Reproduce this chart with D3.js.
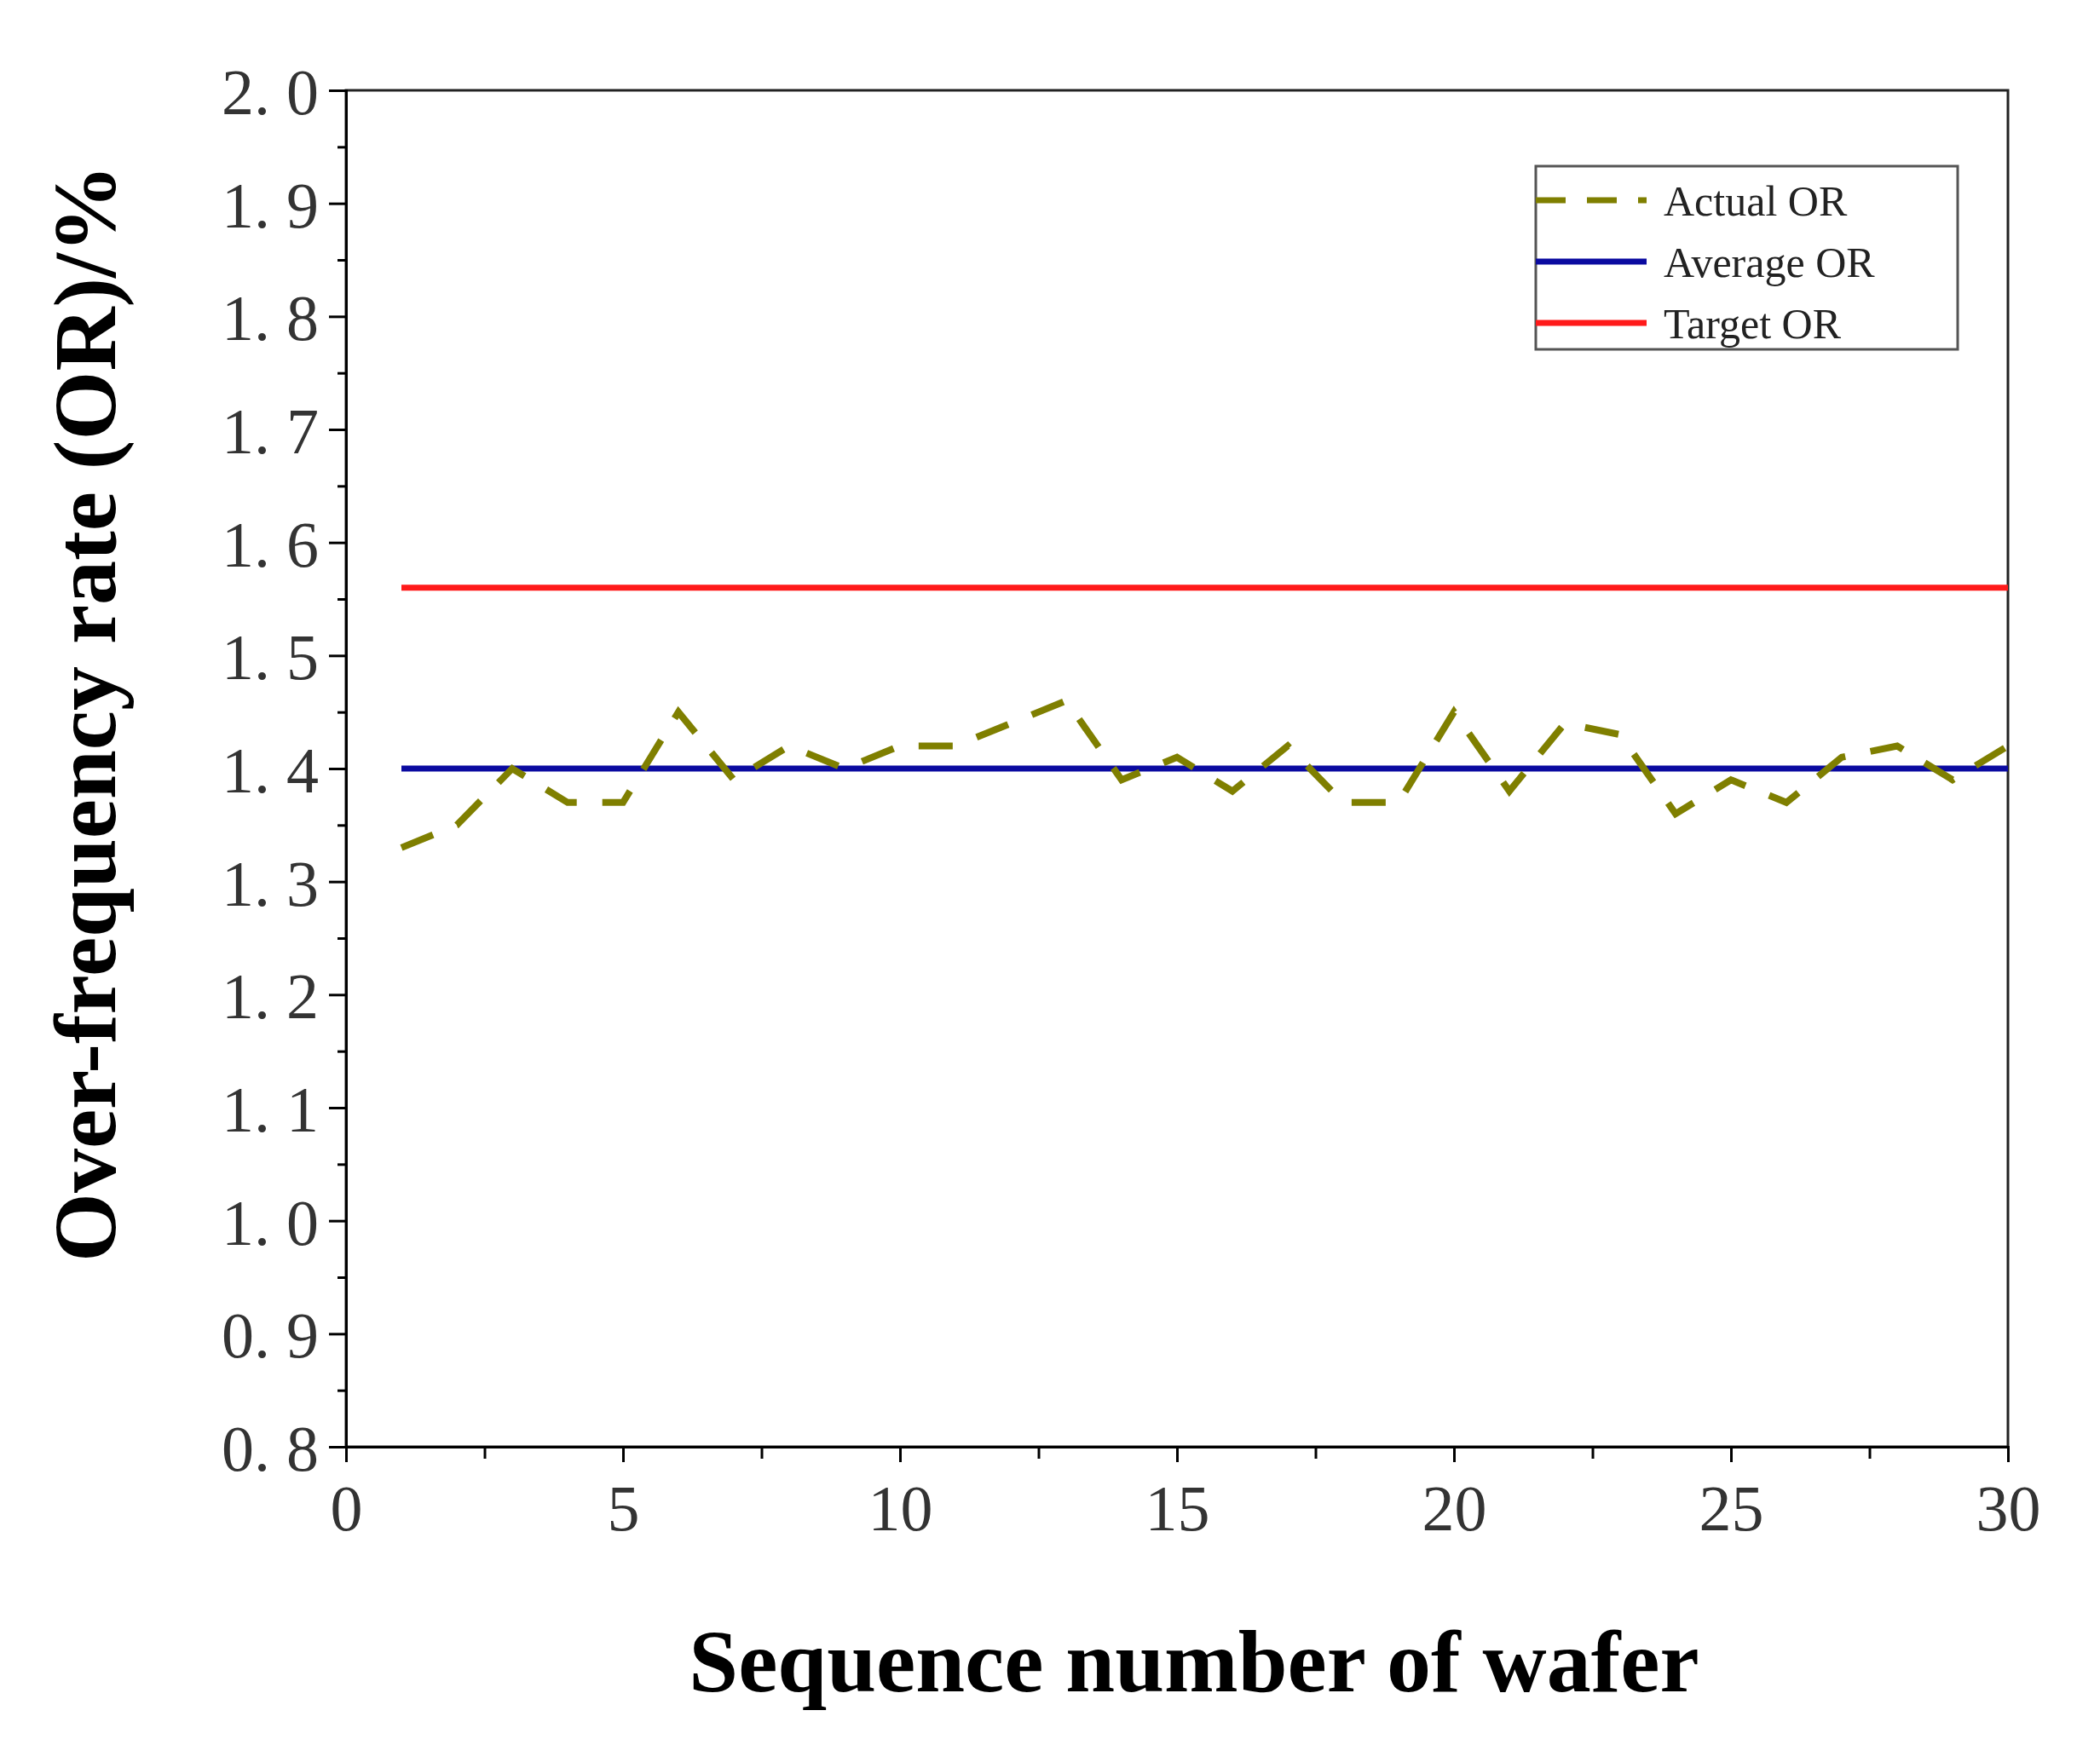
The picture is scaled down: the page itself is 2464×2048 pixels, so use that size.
<!DOCTYPE html>
<html><head><meta charset="utf-8">
<script src="https://cdn.jsdelivr.net/npm/d3@7"></script>
<style>body{margin:0;background:#fff}</style>
</head><body><div class="chart"></div>
<script>
const wafers = d3.range(1, 31)
const actualOR = [1.33, 1.35, 1.40, 1.37, 1.37, 1.45, 1.39, 1.42, 1.40, 1.42,
    1.42, 1.44, 1.46, 1.39, 1.41, 1.38, 1.42, 1.37, 1.37, 1.45,
    1.38, 1.44, 1.43, 1.36, 1.39, 1.37, 1.41, 1.42, 1.39, 1.42]
const averageOR = 1.40
const targetOR = 1.56
const legendLabels = ["Actual OR", "Average OR", "Target OR"]

const width = 2464
const height = 2048
const margin = { top: 106, right: 108, bottom: 350, left: 406 }
const w = width - margin.left - margin.right
const h = height - margin.top - margin.bottom

const svg = d3.select(".chart").append("svg")
    .attr("width", width).attr("height", height)
const g = svg.append("g").attr("transform", "translate(" + margin.left + "," + margin.top + ")")

const x = d3.scaleLinear().domain([0, 30]).range([0, w])
const y = d3.scaleLinear().domain([0.8, 2.0]).range([h, 0])
const serif = "'Liberation Serif', 'DejaVu Serif', serif"

// frame
g.append("rect").attr("width", w).attr("height", h)
    .attr("fill", "none").attr("stroke", "#222").attr("stroke-width", 3)

// minor ticks
g.append("g").attr("transform", "translate(0," + h + ")")
    .call(d3.axisBottom(x).tickValues(d3.range(0, 30.1, 2.5)).tickSize(14).tickFormat(""))
    .call(a => a.select(".domain").remove())
    .selectAll("line").attr("stroke-width", 3)
g.append("g")
    .call(d3.axisLeft(y).tickValues(d3.range(0.85, 2.0, 0.1)).tickSize(10).tickFormat(""))
    .call(a => a.select(".domain").remove())
    .selectAll("line").attr("stroke-width", 3)

// major ticks
const xAxis = g.append("g").attr("transform", "translate(0," + h + ")")
    .call(d3.axisBottom(x).tickValues(d3.range(0, 31, 5)).tickSize(18).tickPadding(26))
xAxis.select(".domain").attr("stroke-width", 3)
xAxis.selectAll("line").attr("stroke-width", 3)
xAxis.selectAll("text").attr("font-family", serif).attr("font-size", 76).attr("fill", "#333")

const yAxis = g.append("g")
    .call(d3.axisLeft(y).tickValues(d3.range(0.8, 2.01, 0.1)).tickSize(20).tickPadding(12)
        .tickFormat(d => d3.format(".1f")(d).replace(".", ". ")))
yAxis.select(".domain").attr("stroke-width", 3)
yAxis.selectAll("line").attr("stroke-width", 3)
yAxis.selectAll("text").attr("font-family", serif).attr("font-size", 76).attr("fill", "#333")
    .attr("dy", "0.36em")

// lines
g.append("line").attr("x1", x(1)).attr("x2", x(30))
    .attr("y1", y(targetOR)).attr("y2", y(targetOR))
    .attr("stroke", "#ff1a1a").attr("stroke-width", 7)
g.append("line").attr("x1", x(1)).attr("x2", x(30))
    .attr("y1", y(averageOR)).attr("y2", y(averageOR))
    .attr("stroke", "#0a0aa0").attr("stroke-width", 7)
g.append("path").datum(actualOR)
    .attr("fill", "none").attr("stroke", "#7f7f00").attr("stroke-width", 8)
    .attr("stroke-dasharray", "40,30")
    .attr("d", d3.line().x((d, i) => x(wafers[i])).y(d => y(d)))

// legend
const lg = svg.append("g").attr("transform", "translate(1802,195)")
lg.append("rect").attr("width", 495).attr("height", 215)
    .attr("fill", "#fff").attr("stroke", "#555").attr("stroke-width", 3)
const lColors = ["#7f7f00", "#0a0aa0", "#ff1a1a"]
legendLabels.forEach((t, i) => {
    const ly = 40 + i * 72
    lg.append("line").attr("x1", 0).attr("x2", 130).attr("y1", ly).attr("y2", ly)
        .attr("stroke", lColors[i]).attr("stroke-width", 7)
        .attr("stroke-dasharray", i === 0 ? "35,25" : null)
    lg.append("text").attr("x", 150).attr("y", ly).attr("dy", "0.35em")
        .attr("font-family", serif).attr("font-size", 50).attr("fill", "#222").text(t)
})

// axis titles
svg.append("text").attr("x", margin.left + w / 2 + 20).attr("y", 1985)
    .attr("text-anchor", "middle").attr("font-family", serif).attr("font-weight", "bold")
    .attr("font-size", 104).text("Sequence number of wafer")
svg.append("text").attr("transform", "translate(135," + (margin.top + h / 2 - 65) + ") rotate(-90)")
    .attr("text-anchor", "middle").attr("font-family", serif).attr("font-weight", "bold")
    .attr("font-size", 104).text("Over-frequency rate (OR)/%")
</script>
</body></html>
